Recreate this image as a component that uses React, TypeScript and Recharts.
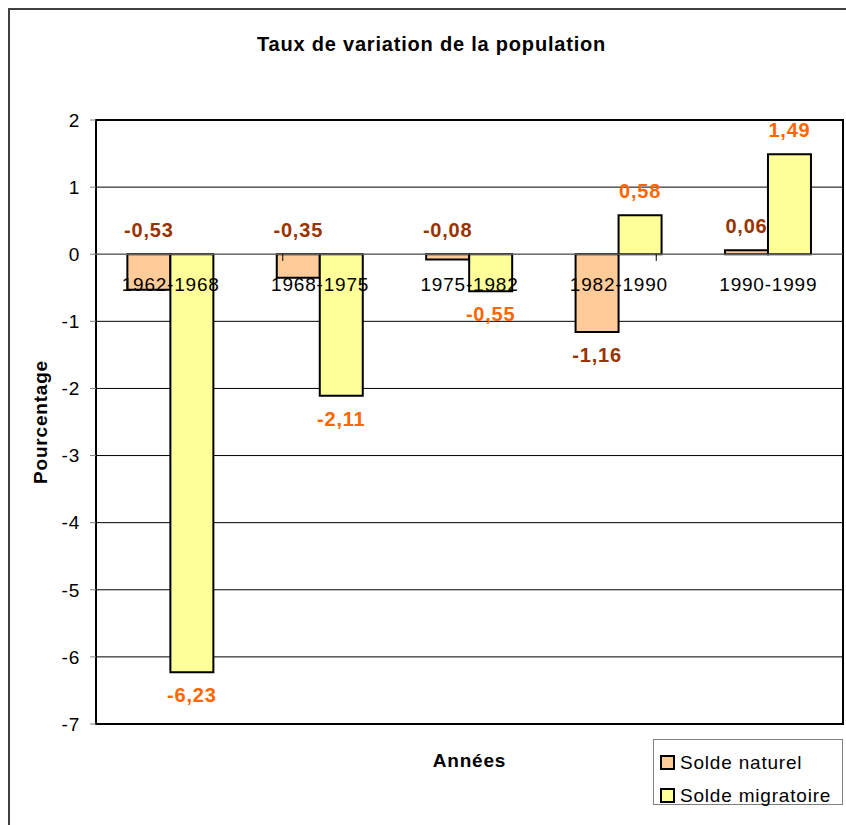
import React from "react";
import {
  BarChart,
  Bar,
  XAxis,
  YAxis,
  CartesianGrid,
  ReferenceLine,
  ReferenceDot,
  ReferenceArea,
  LabelList,
  Legend,
} from "recharts";

const periods = ["1962-1968", "1968-1975", "1975-1982", "1982-1990", "1990-1999"];
const soldeNaturel = [-0.53, -0.35, -0.08, -1.16, 0.06];
const soldeMigratoire = [-6.23, -2.11, -0.55, 0.58, 1.49];
const yTicks = [2, 1, 0, -1, -2, -3, -4, -5, -6, -7];

const data = periods.map((p, i) => ({
  period: p,
  naturel: soldeNaturel[i],
  migratoire: soldeMigratoire[i],
}));

const series = [
  { key: "naturel", name: "Solde naturel", fill: "#FFCC99", labelColor: "#993300", flipSmall: true },
  { key: "migratoire", name: "Solde migratoire", fill: "#FFFF99", labelColor: "#FF6600", flipSmall: false },
];

const FONT = '"Liberation Sans", Arial, sans-serif';

const fmt = (v: number) => v.toFixed(2).replace(".", ",");

// excel put the small "naturel" labels above the zero line by hand
const makeLabel = (color: string, flipSmall: boolean) => (props: any) => {
  const vb = props.viewBox && typeof props.viewBox.x === "number" ? props.viewBox : props;
  const { x, y, width, height } = vb;
  const v = Number(props.value);
  const top = Math.min(y, y + height);
  const bottom = Math.max(y, y + height);
  const above = v >= 0 || (flipSmall && v > -1);
  return (
    <text
      x={x + width / 2}
      y={above ? top - 17 : bottom + 30}
      textAnchor="middle"
      fill={color}
      fontSize={20}
      fontWeight="bold"
    >
      {fmt(v)}
    </text>
  );
};

const LegendBox = () => (
  <div
    style={{
      border: "1px solid #808080",
      background: "#fff",
      padding: "6px 0 0 6px",
      boxSizing: "border-box",
      width: 190,
      height: 66,
      fontSize: 19,
      color: "#000",
    }}
  >
    {series.map((s) => (
      <div key={s.key} style={{ display: "flex", alignItems: "center", height: 33 }}>
        <span
          style={{
            display: "inline-block",
            width: 11,
            height: 11,
            border: "2px solid #000",
            background: s.fill,
            marginRight: 5,
          }}
        />
        <span>{s.name}</span>
      </div>
    ))}
  </div>
);

export default function App() {
  return (
    // fixed so the oversized frame does not make the page scroll
    <div
      style={{
        position: "fixed",
        left: 8,
        top: 8,
        width: 845,
        height: 830,
        border: "2px solid #404040",
        fontFamily: FONT,
        letterSpacing: "0.8px",
        background: "#fff",
      }}
    >
      <div
        style={{
          position: "absolute",
          left: 0,
          top: 24,
          width: 843,
          textAlign: "center",
          fontSize: 20,
          lineHeight: "20px",
          fontWeight: "bold",
          color: "#000",
        }}
      >
        Taux de variation de la population
      </div>
      <BarChart
        width={845}
        height={830}
        data={data}
        margin={{ top: 110, right: 12, left: 0, bottom: 44 }}
        barCategoryGap="21%"
        barGap={0}
      >
        <CartesianGrid vertical={false} stroke="#000" strokeWidth={1} />
        <XAxis
          dataKey="period"
          tick={false}
          axisLine={false}
          tickLine={false}
          height={72}
          label={{ value: "Années", position: "center", fontSize: 19, fontWeight: "bold", fill: "#000" }}
        />
        <XAxis xAxisId="edge" type="number" domain={[0, periods.length]} hide />
        <YAxis
          type="number"
          domain={[-7, 2]}
          ticks={yTicks}
          interval={0}
          width={86}
          tickSize={6}
          tickMargin={10}
          axisLine={false}
          tickLine={{ stroke: "#808080" }}
          tick={{ fill: "#000", fontSize: 19 }}
          label={{
            value: "Pourcentage",
            angle: -90,
            position: "center",
            dx: -13,
            fontSize: 19,
            fontWeight: "bold",
            fill: "#000",
          }}
        />
        {series.map((s) => (
          <Bar
            key={s.key}
            dataKey={s.key}
            name={s.name}
            fill={s.fill}
            stroke="#000"
            strokeWidth={2}
            isAnimationActive={false}
          >
            <LabelList dataKey={s.key} content={makeLabel(s.labelColor, s.flipSmall)} />
          </Bar>
        ))}
        <ReferenceLine y={0} stroke="#808080" strokeWidth={1} />
        {periods.slice(1).map((p, i) => (
          <ReferenceLine
            key={p}
            xAxisId="edge"
            segment={[
              { x: i + 1, y: 0 },
              { x: i + 1, y: -0.1 },
            ]}
            stroke="#000"
            strokeWidth={1}
          />
        ))}
        {periods.map((p) => (
          <ReferenceDot
            key={p}
            x={p}
            y={0}
            r={1}
            fill="none"
            stroke="none"
            label={{ value: p, position: "bottom", offset: 22, fill: "#000", fontSize: 19 }}
          />
        ))}
        <ReferenceArea y1={-7} y2={2} fill="none" fillOpacity={0} stroke="#000" strokeWidth={2} />
        <Legend
          layout="vertical"
          align="center"
          verticalAlign="middle"
          content={LegendBox}
          wrapperStyle={{ left: 643, top: 729, width: 190, height: 66 }}
        />
      </BarChart>
    </div>
  );
}
